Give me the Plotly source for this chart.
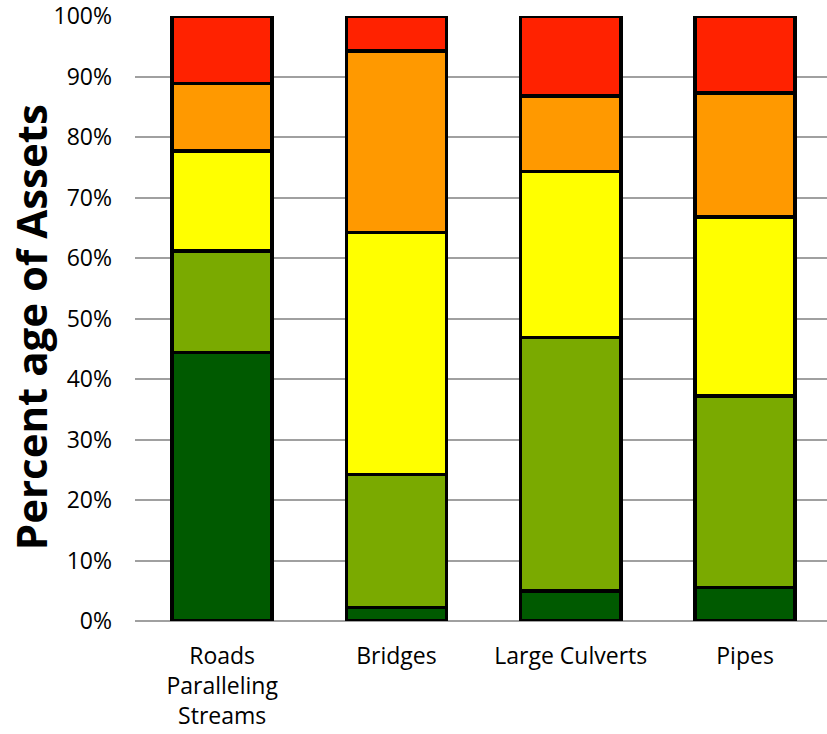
import plotly.graph_objects as go

# Asset groups along the x axis
categories = ["Roads<br>Paralleling<br>Streams", "Bridges", "Large Culverts", "Pipes"]

# Share of assets (%) in each condition band, bottom to top of each bar
band_names = ["Very Good", "Good", "Fair", "Poor", "Very Poor"]
very_good = [44.4, 2.2, 5.0, 5.5]
good = [16.8, 22.0, 41.9, 31.7]
fair = [16.5, 40.0, 27.4, 29.6]
poor = [11.2, 30.0, 12.5, 20.5]
very_poor = [11.1, 5.8, 13.2, 12.7]

band_values = [very_good, good, fair, poor, very_poor]
band_colors = ["#005A00", "#7AAA00", "#FFFF00", "#FF9900", "#FF2200"]

y_ticks = [0, 10, 20, 30, 40, 50, 60, 70, 80, 90, 100]
y_tick_text = [f"{v}%" for v in y_ticks]

font_family = "Open Sans"

fig = go.Figure()
for name, vals, color in zip(band_names, band_values, band_colors):
    fig.add_trace(go.Bar(
        x=categories,
        y=vals,
        name=name,
        width=0.574,
        marker=dict(color=color, line=dict(color="#000000", width=3.5)),
    ))

fig.update_layout(
    barmode="stack",
    width=827,
    height=734,
    margin=dict(l=135, r=0, t=16, b=113),
    paper_bgcolor="white",
    plot_bgcolor="white",
    showlegend=False,
    font=dict(family=font_family, color="#000000"),
)

fig.update_xaxes(
    range=[-0.5, 3.47],
    showgrid=False,
    showline=False,
    ticks="",
    tickfont=dict(size=23, family=font_family, color="#000000"),
    ticklabelstandoff=19,
)

fig.update_yaxes(
    range=[0, 100.02],
    tickvals=y_ticks,
    ticktext=y_tick_text,
    showgrid=True,
    gridcolor="#A0A0A0",
    gridwidth=1.6,
    zeroline=True,
    zerolinecolor="#A0A0A0",
    zerolinewidth=2,
    showline=False,
    ticks="",
    tickfont=dict(size=23, family=font_family, color="#000000"),
    ticklabelstandoff=22,
    ticklabeloverflow="allow",
)

# Rotated y-axis title
fig.add_annotation(
    text="<b>Percent age of Assets</b>",
    textangle=-90,
    xref="paper", yref="paper",
    x=-0.150, y=0.486,
    xanchor="center", yanchor="middle",
    showarrow=False,
    font=dict(size=42, family=font_family, color="#000000"),
)

fig.write_html("out.html")
